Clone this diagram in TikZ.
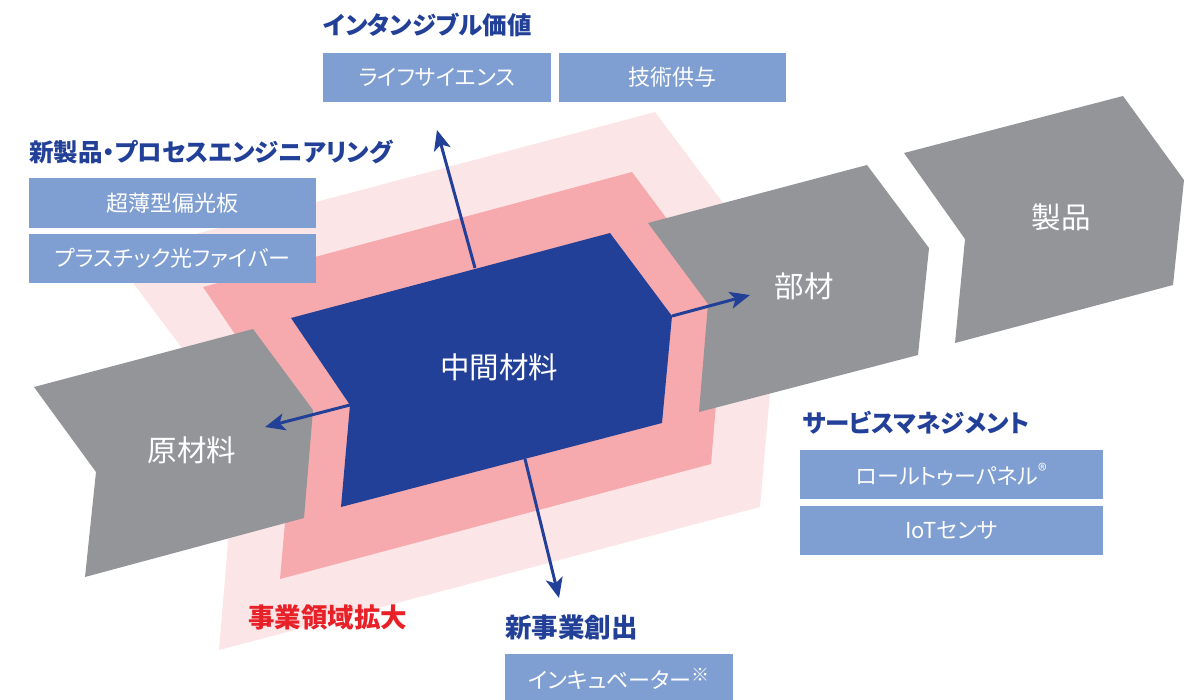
\documentclass[tikz,border=0pt]{standalone}
\usepackage{fontspec}
\setmainfont{Noto Sans CJK JP}[RawFeature=+palt]
\usetikzlibrary{arrows.meta}
\definecolor{navy}{RGB}{35,64,152}
\definecolor{boxblue}{RGB}{127,158,209}
\definecolor{greyshape}{RGB}{148,149,153}
\definecolor{pinkmid}{RGB}{246,170,173}
\definecolor{pinklight}{RGB}{252,229,231}
\definecolor{redtext}{RGB}{232,32,40}
\tikzset{
  head/.style={anchor=west, inner sep=0pt, text=navy, font=\bfseries\fontsize{24.5}{24.5}\selectfont},
  kanjihead/.style={head, font=\bfseries\fontsize{26.5}{26.5}\selectfont},
  redhead/.style={kanjihead, text=redtext},
  itembox/.style={fill=boxblue, text=white, inner sep=0pt, font=\fontsize{22}{22}\selectfont},
  biglabel/.style={text=white, inner sep=0pt, font=\fontsize{29.5}{29.5}\selectfont},
  flow/.style={draw=navy, line width=3pt, -{Stealth[length=20pt,width=17pt,inset=5pt]}},
}
\newcommand{\supmark}[1]{\raisebox{0.3em}{\fontsize{18}{18}\selectfont #1}}
\begin{document}
\begin{tikzpicture}[x=1pt,y=-1pt]
\useasboundingbox (0,0) rectangle (1198,699);
% light pink region
\fill[pinklight] (113,256) -- (655,112) -- (780,279) -- (760,507) -- (219,650) -- (238,423) -- cycle;
% mid pink region
\fill[pinkmid] (203,287) -- (632,172) -- (725,297) -- (711,464) -- (280,579) -- (294,421) -- cycle;
% grey chevrons
\fill[greyshape] (34,387) -- (253,329) -- (313,410) -- (304,518) -- (85,577) -- (96,472) -- cycle;
\fill[greyshape] (648,223) -- (867,165) -- (929,248) -- (918,355) -- (699,412) -- (708,304) -- cycle;
\fill[greyshape] (904,153) -- (1123,96) -- (1184,180) -- (1173,285) -- (955,343) -- (965,239) -- cycle;
% blue centre
\coordinate (bTL) at (291,318);
\coordinate (bTR) at (610,233);
\coordinate (bR) at (672,316);
\coordinate (bBR) at (662,423);
\coordinate (bBL) at (341,507);
\coordinate (bN) at (350,405);
\fill[navy] (bTL) -- (bTR) -- (bR) -- (bBR) -- (bBL) -- (bN) -- cycle;
% arrow anchors
\coordinate (upS) at (475,268);
\coordinate (upT) at (437,130);
\coordinate (rtT) at (750,295);
\coordinate (ltT) at (265,427);
\coordinate (dnS) at (525,459);
\coordinate (dnT) at (559,598);
\draw[flow] (upS) -- (upT);
\draw[flow] (bR) -- (rtT);
\draw[flow] (bN) -- (ltT);
\draw[flow] (dnS) -- (dnT);
% labels on shapes
\node[biglabel] (mid) at (499,367) {中間材料};
\node[biglabel] (raw) at (192,450) {原材料};
\node[biglabel] (part) at (804,286) {部材};
\node[biglabel] (prod) at (1061,217) {製品};
% headings
\node[head] (h1) at (323,25) {インタンジブル価値};
\node[head] (h2) at (29,152) {新製品・プロセスエンジニアリング};
\node[head] (h3) at (802,423) {サービスマネジメント};
\node[kanjihead] (h4) at (505,627) {新事業創出};
\node[redhead] (h5) at (248,617) {事業領域拡大};
% item boxes
\node[itembox, minimum width=228pt, minimum height=49pt] (b1) at (437,77.5) {ライフサイエンス};
\node[itembox, minimum width=227pt, minimum height=49pt] (b2) at (672.5,77.5) {技術供与};
\node[itembox, minimum width=287pt, minimum height=50pt] (b3) at (172.5,203) {超薄型偏光板};
\node[itembox, minimum width=287pt, minimum height=49pt] (b4) at (172.5,258.5) {プラスチック光ファイバー};
\node[itembox, minimum width=303pt, minimum height=49pt] (b5) at (951.5,474.5) {ロールトゥーパネル\supmark{®}};
\node[itembox, minimum width=303pt, minimum height=49pt] (b6) at (951.5,530.5) {IoTセンサ};
\node[itembox, minimum width=228pt, minimum height=50pt] (b7) at (619,679) {インキュベーター\supmark{※}};
\end{tikzpicture}
\end{document}
